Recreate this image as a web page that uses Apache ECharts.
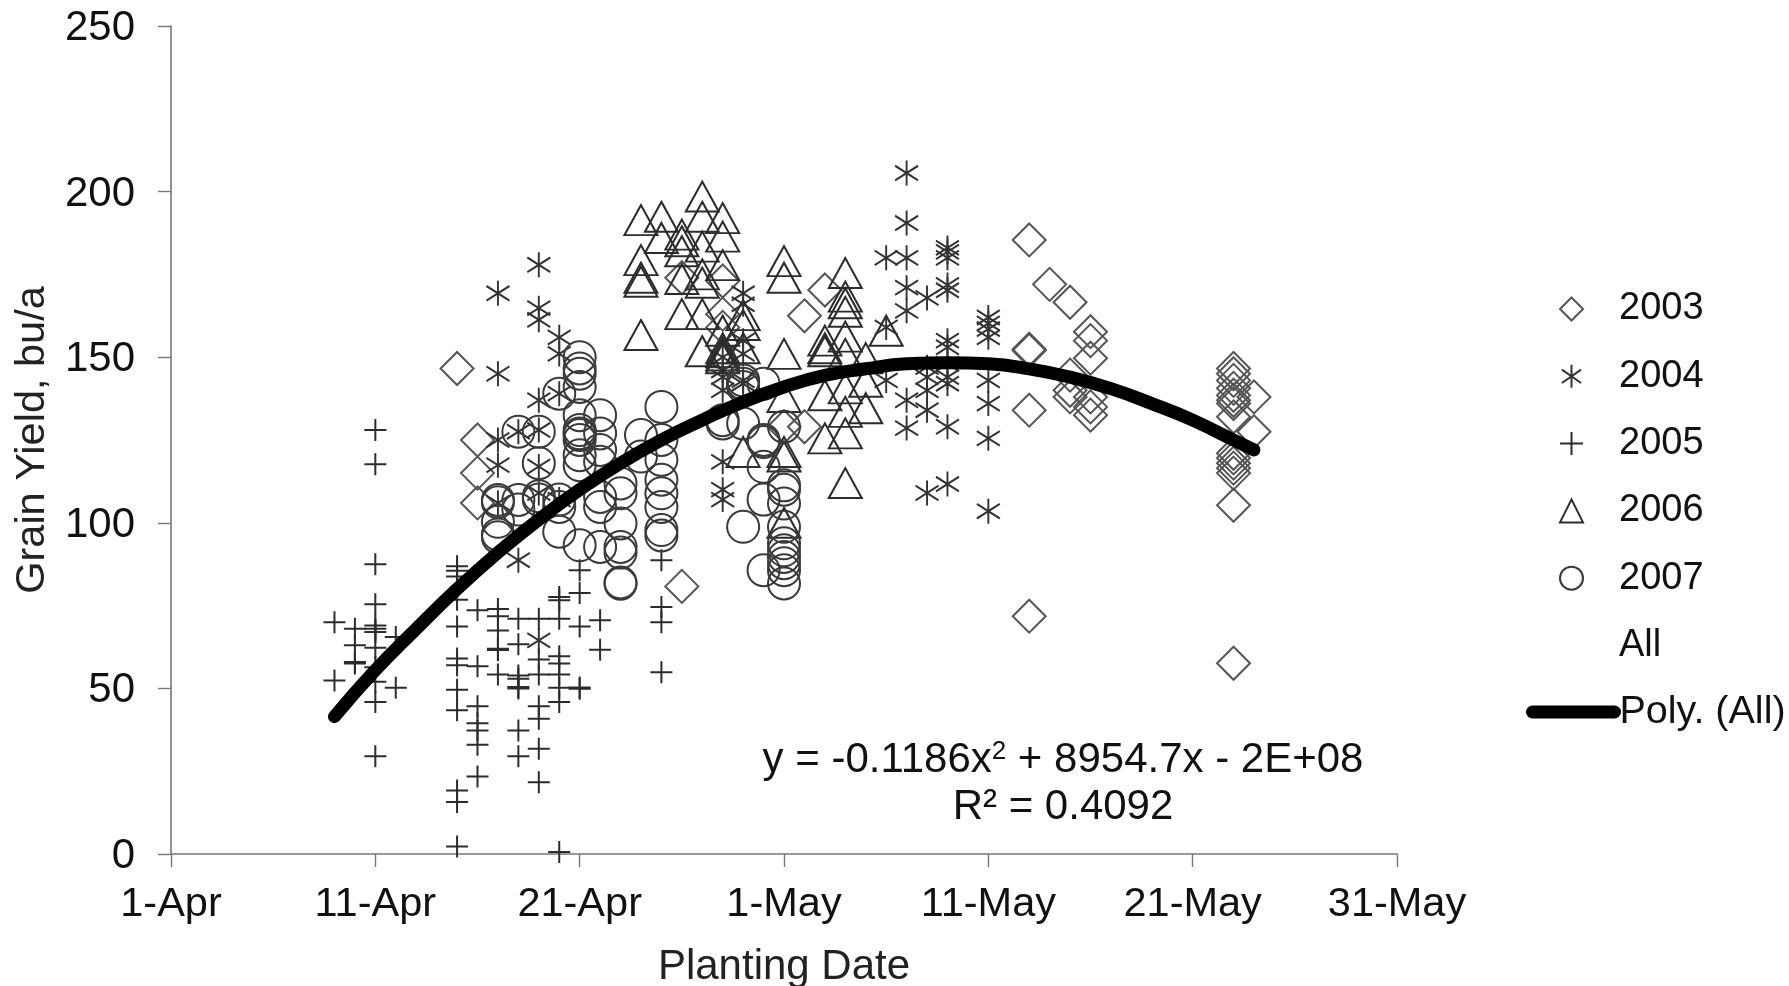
<!DOCTYPE html>
<html>
<head>
<meta charset="utf-8">
<style>
html,body{margin:0;padding:0;background:#fff}
#chart{width:1789px;height:986px;filter:blur(0.5px)}
</style>
<script src="https://cdn.jsdelivr.net/npm/echarts@6/dist/echarts.min.js"></script>
</head>
<body>
<div id="chart"></div>
<script>
// x = days after 1 April, y = grain yield (bu/a)
const xTickLabels = ['1-Apr','11-Apr','21-Apr','1-May','11-May','21-May','31-May'];
const yTicks = [0,50,100,150,200,250];
const legendNames = ['2003','2004','2005','2006','2007','All','Poly. (All)'];

const y2003 = [[14,146.6],[15,125],[15,115],[15,106],[25,80.8],[25,174],[27,173],[27,163],[27,159],[30,129],[31,162.5],[31,129],[32,170.3],
[42,185.4],[42,152.4],[42,152],[42,134],[42,71.8],[43,172],[44,166.6],[44,144.6],[44,140],[44,138],
[45,157.7],[45,155],[45,149.7],[45,138],[45,135],[45,132.5],[52,146.6],[52,145],[52,143],[52,140.6],[52,138.5],[52,137],[52,136],[52,132],
[52,121],[52,119.6],[52,118],[52,116.5],[52,115],[52,105.3],[52,57.6],[53,138],[53,127.5]];

const y2004 = [[16,169.3],[16,145],[16,125],[16,117.4],[16,106],[17,127.5],[17,88.7],[18,177.9],[18,164.8],[18,161.3],[18,137],[18,128],[18,117],[18,109],[18,64.5],
[19,156],[19,151],[19,139],[19,107],[27,150],[27,146],[27,144],[27,140],[27,118.4],[27,110],[27,107],[28,169.3],[28,166],[28,155],[28,151],[28,143],[28,142],
[35,180],[35,159],[35,143],[36,205.6],[36,190.5],[36,180],[36,171],[36,164],[36,137],[36,128.6],[37,167.9],[37,147],[37,144],[37,140],[37,134],[37,109],
[38,183],[38,181.8],[38,180],[38,171.8],[38,170.2],[38,155],[38,153],[38,148],[38,144],[38,142],[38,129],[38,111.7],[40,162],[40,160.2],[40,158.5],[40,156],[40,143],[40,136],[40,125.5],[40,103.5]];

const y2005 = [[8,70],[8,52.4],[9,68],[9,63],[9,58],[9,57.5],[10,128],[10,117.7],[10,87.5],[10,75.4],[10,69],[10,68],[10,67],[10,62.3],[10,56.4],[10,52],[10,45.9],[10,29.5],
[11,65.5],[11,50.2],[14,86.9],[14,85.5],[14,83.8],[14,76.8],[14,68.7],[14,59],[14,57],[14,49.6],[14,43.4],[14,19.2],[14,15.7],[14,2.3],
[15,73.6],[15,56.7],[15,44.6],[15,39.5],[15,37.3],[15,33],[15,23.4],[16,74],[16,71.8],[16,67.5],[16,62],[16,61.6],[16,54.2],
[17,71],[17,63.3],[17,53.9],[17,52.9],[17,50.4],[17,50],[17,37.3],[17,29.5],[18,71],[18,58.7],[18,54.2],[18,44.6],[18,40.8],[18,31.8],[18,21.7],
[19,77.6],[19,76.6],[19,71],[19,59.7],[19,57.5],[19,54.2],[19,50.2],[19,45.9],[19,0.6],[20,85.7],[20,78.8],[20,68.7],[20,49.9],[20,50.3],[21,70.6],[21,61.7],
[24,88.7],[24,74.6],[24,70],[24,54.9]];

const y2006 = [[23,191.4],[23,179.3],[23,174],[23,172.8],[23,156.7],[24,192.4],[24,186],[25,187],[25,185],[25,182],[25,173.6],[25,163],
[26,198.5],[26,192.4],[26,183.4],[26,175],[26,172.5],[26,163],[26,151.8],[27,192],[27,186.4],[27,177.8],[27,158],[27,152.7],[27,151.5],[27,150.5],[27,149.7],
[28,162.7],[28,159.7],[28,152.7],[28,121.4],[30,179],[30,174],[30,151],[30,138],[30,121.4],[30,120],[30,100],[32,155],[32,152.7],[32,151.8],[32,138.5],[32,125.5],
[33,175.4],[33,168.3],[33,166.3],[33,163.7],[33,156.2],[33,151],[33,140.6],[33,133.5],[33,127],[33,112],[34,149.7],[34,142.6],[34,134.6],[35,158]];

const y2007 = [[16,106.9],[16,106.2],[16,100.3],[16,96.5],[16,95.6],[17,127.5],[17,106.9],[17,104],[18,127.5],[18,118],[18,108],[18,107],[19,139],[19,107],[19,104.8],[19,97.3],
[20,150],[20,146.6],[20,145],[20,141],[20,132.5],[20,128],[20,127],[20,126.5],[20,125],[20,120.4],[20,117.4],[20,93.2],[21,132.5],[21,127],[21,122],[21,118.4],[21,107.8],[21,104.8],[21,92.7],
[22,111.9],[22,108.9],[22,99.8],[22,92.7],[22,91],[22,82],[22,81.6],[23,126.5],[23,120],[24,135],[24,125],[24,119],[24,113],[24,108.9],[24,104.8],[24,97.8],[24,96.2],
[27,131],[27,130],[28,143],[28,142],[28,141],[28,130],[28,98.8],[29,142],[29,125],[29,124.4],[29,116.9],[29,107],[29,85.7],[30,129],[30,111.3],[30,110],[30,105.8],[30,98.8],[30,93.8],[30,91.7],[30,89.7],[30,87.8],[30,85.7],[30,81.7]];

const polyAll = [[8,41.5],[10,55.5],[12,68],[14,80],[16,91],[18,101],[20,110],[22,118],[24,125],[26,131],[28,136.5],[30,141],[32,144.5],[34,146.5],[36,148],[38,148.3],[40,148],[42,146.5],[44,144],[46,140.5],[48,136],[50,131],[52,125],[53,122]];

const equationLines = ['y = -0.1186x{s|2} + 8954.7x - 2E+08','R² = 0.4092'];

const FONT = '"Liberation Sans", Arial, sans-serif';
const INK = '#2c2c2c';
const plusPath = 'path://M10 0V20M0 10H20';
const starPath = 'path://M10 0V24M0 5L20 19M0 19L20 5';

function mark(name,data,symbol,size,color,z){
  return {name,type:'scatter',data,symbol,symbolSize:size,z:z||2,silent:true,symbolKeepAspect:false,
    itemStyle:{color:'transparent',borderColor:color,borderWidth:2,opacity:1}};
}
const chart = echarts.init(document.getElementById('chart'),null,{renderer:'canvas'});
chart.setOption({
  animation:false,
  backgroundColor:'#fff',
  textStyle:{fontFamily:FONT,color:'#111'},
  grid:{left:171,top:26,width:1226,height:828,containLabel:false,outerBoundsMode:'none'},
  xAxis:{type:'value',min:0,max:60,interval:10,
    name:'Planting Date',nameLocation:'middle',nameGap:92,
    nameTextStyle:{fontFamily:FONT,fontSize:42,color:'#222'},
    axisLine:{onZero:false,lineStyle:{color:'#777',width:1.6}},
    axisTick:{show:true,length:13,lineStyle:{color:'#777',width:1.4}},
    axisLabel:{fontFamily:FONT,fontSize:41.5,color:'#111',margin:30,formatter:v=>xTickLabels[v/10]},
    splitLine:{show:false}},
  yAxis:{type:'value',min:0,max:250,interval:50,
    name:'Grain Yield, bu/a',nameLocation:'middle',nameGap:113,nameRotate:90,
    nameTextStyle:{fontFamily:FONT,fontSize:41.5,color:'#222'},
    axisLine:{onZero:false,lineStyle:{color:'#777',width:1.6}},
    axisTick:{show:true,length:13,lineStyle:{color:'#777',width:1.4}},
    axisLabel:{fontFamily:FONT,fontSize:42,color:'#111',margin:36,formatter:v=>'{a|'+yTicks[v/50]+'}',
      rich:{a:{fontFamily:FONT,fontSize:42,color:'#111',padding:[5,0,0,0]}}},
    splitLine:{show:false}},
  legend:[
    {orient:'vertical',left:1554,top:284,itemWidth:23,itemHeight:23,itemGap:27.3,
     data:legendNames.slice(0,6).map(n=>n==='All'?{name:n,icon:'none'}:{name:n}),
     selectedMode:false,
     textStyle:{fontFamily:FONT,fontSize:38,color:'#111',lineHeight:40,padding:[0,0,0,31]}},
    {orient:'vertical',left:1521,top:687,itemWidth:82,itemHeight:10,
     data:[legendNames[6]],selectedMode:false,
     itemStyle:{color:'#000'},lineStyle:{width:13,color:'#000',cap:'round'},
     textStyle:{fontFamily:FONT,fontSize:39.5,color:'#111',lineHeight:40,padding:[0,0,0,0]}}
  ],
  title:[
    {text:equationLines[0],left:1058,top:734,textAlign:'center',
     textStyle:{fontFamily:FONT,fontSize:42,fontWeight:'normal',color:'#111',lineHeight:42,
       rich:{s:{fontFamily:FONT,fontSize:26,verticalAlign:'top',lineHeight:42,color:'#111'}}}},
    {text:equationLines[1],left:1058,top:781,textAlign:'center',
     textStyle:{fontFamily:FONT,fontSize:42,fontWeight:'normal',color:'#111',lineHeight:42}}
  ],
  series:[
    mark('2003',y2003,'diamond',[33,33],'#555',2),
    mark('2004',y2004,starPath,[23,25],'#333',2),
    mark('2005',y2005,plusPath,[22,22],'#2c2c2c',2),
    mark('2006',y2006,'triangle',[33,30],INK,3),
    mark('2007',y2007,'circle',[32,32],'#3a3a3a',3),
    {name:'All',type:'scatter',symbol:'none',silent:true,data:[...y2003,...y2004,...y2005,...y2006,...y2007],itemStyle:{color:'transparent'}},
    {name:'Poly. (All)',type:'line',data:polyAll,smooth:0.5,symbol:'none',silent:true,z:5,
     lineStyle:{color:'#000',width:13,cap:'round',join:'round'},itemStyle:{color:'#000'}}
  ]
});
</script>
</body>
</html>
